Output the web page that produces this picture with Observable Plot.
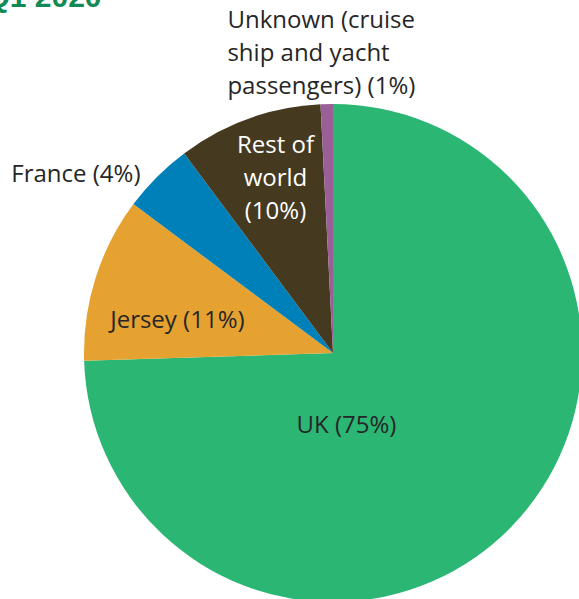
<!DOCTYPE html>
<html>
<head>
<meta charset="utf-8">
<script src="https://cdn.jsdelivr.net/npm/d3@7"></script>
<script src="https://cdn.jsdelivr.net/npm/@observablehq/plot@0.6"></script>
<style>
  html, body { margin: 0; padding: 0; background: #fff; overflow: hidden; }
</style>
</head>
<body>
<div id="chart"></div>
<script>
const categories = ["UK", "Jersey", "France", "Rest of world", "Unknown (cruise ship and yacht passengers)"];
const shares = [74.5, 10.7, 4.6, 9.4, 0.8];
const labelTexts = ["UK (75%)", "Jersey (11%)", "France (4%)", "Rest of\nworld\n(10%)", "Unknown (cruise\nship and yacht\npassengers) (1%)"];
const sliceColors = ["#2bb673", "#e5a230", "#0080b9", "#453a1f", "#9a5f96"];
const labelColors = ["#262626", "#262626", "#262626", "#ffffff", "#262626"];
// label layout (in pie-radius units, centre = 0,0)
const labelX = [0.052, -0.627, -0.775, -0.233, -0.426];
const labelY = [-0.277, 0.145, 0.731, 0.715, 1.219];
const labelAnchor = ["middle", "middle", "end", "middle", "start"];
const titleText = "Q1 2020";

const data = categories.map((c, i) => ({
  category: c, share: shares[i], color: sliceColors[i],
  label: labelTexts[i], lx: labelX[i], ly: labelY[i], anchor: labelAnchor[i], lcolor: labelColors[i]
}));

const pie = d3.pie().value(d => d.share).sort(null).startAngle(0).endAngle(2 * Math.PI);
const arcs = pie(data);

function pieMark(index, scales) {
  const cx = scales.x(0), cy = scales.y(0), r = scales.x(1) - scales.x(0);
  const arc = d3.arc().innerRadius(0).outerRadius(r);
  const g = d3.create("svg:g").attr("transform", `translate(${cx},${cy})`);
  g.selectAll("path").data(arcs).join("path")
    .attr("d", arc)
    .attr("fill", d => d.data.color)
    .attr("stroke", "none");
  return g.node();
}

const font = "'Open Sans', sans-serif";
const fs = 24;
const textMarks = ["middle", "end", "start"].map(a =>
  Plot.text(data.filter(d => d.anchor === a), {
    x: "lx", y: "ly", text: "label", fill: "lcolor",
    textAnchor: a, lineAnchor: "middle", lineHeight: 33 / fs,
    fontSize: fs, fontFamily: font
  })
);

const chart = Plot.plot({
  width: 579, height: 599, margin: 0,
  style: { fontFamily: font, background: "#fff" },
  x: { type: "linear", domain: [-1, 1], range: [84, 582], axis: null },
  y: { type: "linear", domain: [-1, 1], range: [602, 104], axis: null },
  marks: [
    pieMark,
    ...textMarks,
    Plot.text([titleText], {
      frameAnchor: "top-left", dx: 101, dy: 6, textAnchor: "end", lineAnchor: "bottom",
      fontSize: 30, fontWeight: "bold", fill: "#118a55", fontFamily: "'Liberation Sans', Arial, sans-serif"
    })
  ]
});
document.getElementById("chart").appendChild(chart);
</script>
</body>
</html>
